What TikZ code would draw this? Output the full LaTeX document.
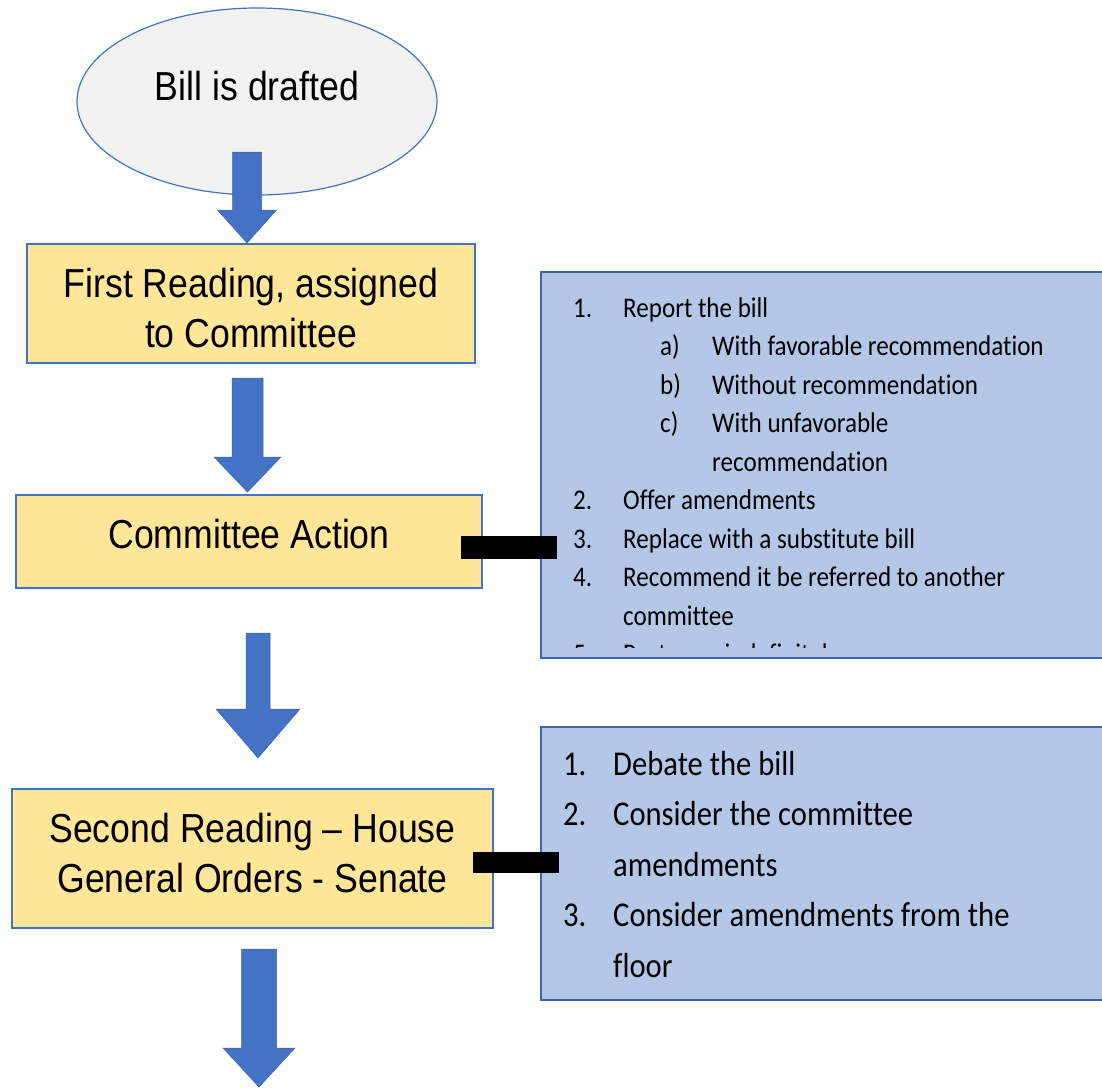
\documentclass[tikz,border=0pt]{standalone}
\usepackage{fontspec}
\setmainfont{Liberation Sans}
\newfontfamily\flowfont[FakeStretch=0.88]{Liberation Sans}
\newfontfamily\listfont[FakeStretch=0.88, Ligatures=NoCommon]{Carlito}
\usepackage{tikz}
\usetikzlibrary{positioning,shapes.geometric,calc}

\definecolor{boxyellow}{HTML}{FFE699}
\definecolor{boxblue}{HTML}{B4C7E7}
\definecolor{edgeblue}{HTML}{4472C4}
\definecolor{noteedge}{HTML}{3F64A8}
\definecolor{ovalgray}{HTML}{F2F2F2}
\definecolor{arrowblue}{HTML}{4472C4}

\newcommand{\blockarrow}[6]{%
  \filldraw[flowarrow] (#1-#5,#2) -- (#1+#5,#2) -- (#1+#5,#3) -- (#1+#6,#3) -- (#1,#4) -- (#1-#6,#3) -- (#1-#5,#3) -- cycle;}

\begin{document}
\begin{tikzpicture}[x=1pt, y=-1pt,
    stage/.style={rectangle, draw=edgeblue, fill=boxyellow, line width=1.2pt, inner sep=0pt, align=center, font=\flowfont\fontsize{40.5}{50}\selectfont},
    notes/.style={rectangle, draw=noteedge, fill=boxblue, line width=1.8pt, inner sep=0pt},
    flowarrow/.style={fill=arrowblue, draw=arrowblue!85!black, line width=0.5pt},
    link/.style={draw=black, line width=23pt}]
    \useasboundingbox (0,0) rectangle (1102,1090);
    \node[ellipse, draw=edgeblue, fill=ovalgray, line width=1.2pt, minimum width=360pt, minimum height=187pt, inner sep=0pt, text height=20pt, text depth=23pt, font=\flowfont\fontsize{40.5}{48}\selectfont] (draft) at (257,101.5) {Bill is drafted};
    \node[stage, minimum width=448pt, minimum height=119pt, text height=100pt, text depth=13pt] (first) at (251,303.5) {First Reading, assigned\\to Committee};
    \node[stage, minimum width=466pt, minimum height=93pt, text height=35pt, text depth=22pt] (action) at (249,541.5) {Committee Action};
    \node[stage, minimum width=481pt, minimum height=139pt, text height=85pt, text depth=18pt] (reading) at (252.5,858.5) {Second Reading – House\\General Orders - Senate};
    \node[notes, minimum width=569pt, minimum height=386pt] (reports) at (825.5,465) {};
    \node[notes, minimum width=569pt, minimum height=273pt] (floor) at (825.5,863.5) {};
    \begin{scope}
        \clip (reports.north west) rectangle ([yshift=11pt]reports.south east);
        \node[anchor=base west, inner sep=0pt, font=\listfont\fontsize{28.5}{38.5}\selectfont] (reportlist) at (573,317) {\begin{tabular}[t]{@{}p{50pt}@{}p{37pt}@{}p{52pt}@{}l@{}}
            1. & \multicolumn{3}{@{}l@{}}{Report the bill}\\
            & & a) & With favorable recommendation\\
            & & b) & Without recommendation\\
            & & c) & With unfavorable\\
            & & & recommendation\\
            2. & \multicolumn{3}{@{}l@{}}{Offer amendments}\\
            3. & \multicolumn{3}{@{}l@{}}{Replace with a substitute bill}\\
            4. & \multicolumn{3}{@{}l@{}}{Recommend it be referred to another}\\
            & \multicolumn{3}{@{}l@{}}{committee}\\
            5. & \multicolumn{3}{@{}l@{}}{Postpone indefinitely}
        \end{tabular}};
    \end{scope}
    \node[anchor=base west, inner sep=0pt, font=\listfont\fontsize{34.8}{50.5}\selectfont] (floorlist) at (563,775) {\begin{tabular}[t]{@{}p{50pt}@{}l@{}}
        1. & Debate the bill\\
        2. & Consider the committee\\
        & amendments\\
        3. & Consider amendments from the\\
        & floor
    \end{tabular}};
    \draw[link] ($(action.east)+(-22,6)$) -- ($(action.east -| reports.west)+(17,6)$);
    \draw[link, line width=21pt] ($(reading.east)+(-21,4)$) -- ($(reading.east -| floor.west)+(19,4)$);
    \blockarrow{247}{152}{210}{243}{14.5}{29.5}
    \blockarrow{247.5}{378}{457}{492}{15.5}{33.5}
    \blockarrow{258}{633}{709}{758}{12}{42}
    \blockarrow{259}{949}{1048}{1087}{17.5}{36}
\end{tikzpicture}
\end{document}
